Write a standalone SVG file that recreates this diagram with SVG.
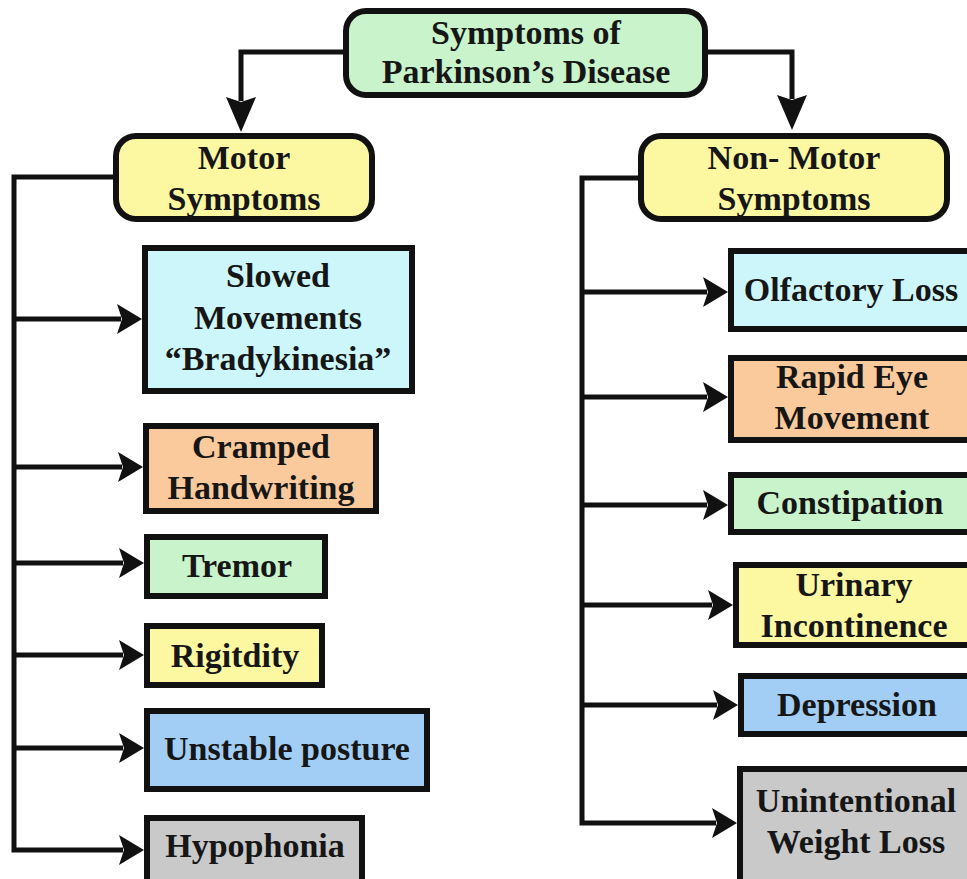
<svg xmlns="http://www.w3.org/2000/svg" width="967" height="879" viewBox="0 0 967 879">
  <style>
    .box { stroke: #111; stroke-width: 6; stroke-linejoin: miter; }
    .lbl { font-family: "Liberation Serif", "Times New Roman", serif; font-weight: bold; font-size: 34px; fill: #161616; text-anchor: middle; }
    .wire { fill: none; stroke: #111; stroke-width: 5; stroke-linejoin: miter; }
    .green { fill: #c9f3cb; }
    .yellow { fill: #fcf8a2; }
    .cyan { fill: #cdf6fa; }
    .orange { fill: #fbca9c; }
    .blue { fill: #a2cef5; }
    .gray { fill: #c9c9c9; }
  </style>
  <defs>
    <!-- notched arrowheads; reference point sits inside the notch so the line tucks in -->
    <marker id="arrR" markerUnits="userSpaceOnUse" markerWidth="26" markerHeight="30" viewBox="0 0 26 30" refX="4" refY="15" orient="auto">
      <path d="M0,0 L25,15 L0,30 L5,15 Z" fill="#111"/>
    </marker>
    <marker id="arrD" markerUnits="userSpaceOnUse" markerWidth="36" markerHeight="30" viewBox="0 0 36 30" refX="4" refY="15" orient="auto">
      <path d="M0,0 L35,15 L0,30 L5,15 Z" fill="#111"/>
    </marker>
  </defs>

  <rect width="967" height="879" fill="#ffffff"/>

  <!-- connectors -->
  <g id="connectors">
    <path class="wire" d="M346,52 H241 V101" marker-end="url(#arrD)"/>
    <path class="wire" d="M705,52 H792 V99" marker-end="url(#arrD)"/>

    <!-- motor branch -->
    <path class="wire" d="M116,177 H14 V850 H123" marker-end="url(#arrR)"/>
    <path class="wire" d="M14,319 H121" marker-end="url(#arrR)"/>
    <path class="wire" d="M14,467 H122" marker-end="url(#arrR)"/>
    <path class="wire" d="M14,563 H123" marker-end="url(#arrR)"/>
    <path class="wire" d="M14,655 H123" marker-end="url(#arrR)"/>
    <path class="wire" d="M14,748 H123" marker-end="url(#arrR)"/>

    <!-- non-motor branch -->
    <path class="wire" d="M641,178 H582 V823 H716" marker-end="url(#arrR)"/>
    <path class="wire" d="M582,292 H707" marker-end="url(#arrR)"/>
    <path class="wire" d="M582,397 H707" marker-end="url(#arrR)"/>
    <path class="wire" d="M582,505 H707" marker-end="url(#arrR)"/>
    <path class="wire" d="M582,605 H712" marker-end="url(#arrR)"/>
    <path class="wire" d="M582,705 H717" marker-end="url(#arrR)"/>
  </g>

  <!-- root -->
  <g id="root">
    <rect class="box green" x="346" y="11" width="359" height="84" rx="20"/>
    <text class="lbl" x="526" y="44">Symptoms of</text>
    <text class="lbl" x="526" y="83">Parkinson’s Disease</text>
  </g>

  <!-- category nodes -->
  <g id="motor">
    <rect class="box yellow" x="116" y="136" width="256" height="83" rx="20"/>
    <text class="lbl" x="244" y="169">Motor</text>
    <text class="lbl" x="244" y="210">Symptoms</text>
  </g>
  <g id="nonmotor">
    <rect class="box yellow" x="641" y="136" width="306" height="83" rx="20"/>
    <text class="lbl" x="794" y="169">Non- Motor</text>
    <text class="lbl" x="794" y="210">Symptoms</text>
  </g>

  <!-- motor symptoms -->
  <g id="bradykinesia">
    <rect class="box cyan" x="145" y="248" width="267" height="143"/>
    <text class="lbl" x="278" y="287">Slowed</text>
    <text class="lbl" x="278" y="329">Movements</text>
    <text class="lbl" x="278" y="370">“Bradykinesia”</text>
  </g>
  <g id="handwriting">
    <rect class="box orange" x="146" y="426" width="230" height="85"/>
    <text class="lbl" x="261" y="458">Cramped</text>
    <text class="lbl" x="261" y="499">Handwriting</text>
  </g>
  <g id="tremor">
    <rect class="box green" x="147" y="537" width="178" height="59"/>
    <text class="lbl" x="237" y="577">Tremor</text>
  </g>
  <g id="rigidity">
    <rect class="box yellow" x="147" y="626" width="175" height="59"/>
    <text class="lbl" x="235" y="667">Rigitdity</text>
  </g>
  <g id="posture">
    <rect class="box blue" x="147" y="711" width="280" height="78"/>
    <text class="lbl" x="287" y="760">Unstable posture</text>
  </g>
  <g id="hypophonia">
    <rect class="box gray" x="147" y="818" width="215" height="80"/>
    <text class="lbl" x="255" y="857">Hypophonia</text>
  </g>

  <!-- non-motor symptoms -->
  <g id="olfactory">
    <rect class="box cyan" x="731" y="251" width="260" height="78"/>
    <text class="lbl" x="851" y="301">Olfactory Loss</text>
  </g>
  <g id="rem">
    <rect class="box orange" x="731" y="358" width="260" height="82"/>
    <text class="lbl" x="852" y="388">Rapid Eye</text>
    <text class="lbl" x="852" y="429">Movement</text>
  </g>
  <g id="constipation">
    <rect class="box green" x="731" y="475" width="260" height="57"/>
    <text class="lbl" x="850" y="514">Constipation</text>
  </g>
  <g id="incontinence">
    <rect class="box yellow" x="736" y="565" width="260" height="80"/>
    <text class="lbl" x="854" y="596">Urinary</text>
    <text class="lbl" x="854" y="637">Incontinence</text>
  </g>
  <g id="depression">
    <rect class="box blue" x="741" y="676" width="260" height="58"/>
    <text class="lbl" x="857" y="716">Depression</text>
  </g>
  <g id="weightloss">
    <rect class="box gray" x="740" y="769" width="260" height="130"/>
    <text class="lbl" x="856" y="812">Unintentional</text>
    <text class="lbl" x="856" y="853">Weight Loss</text>
  </g>
</svg>
